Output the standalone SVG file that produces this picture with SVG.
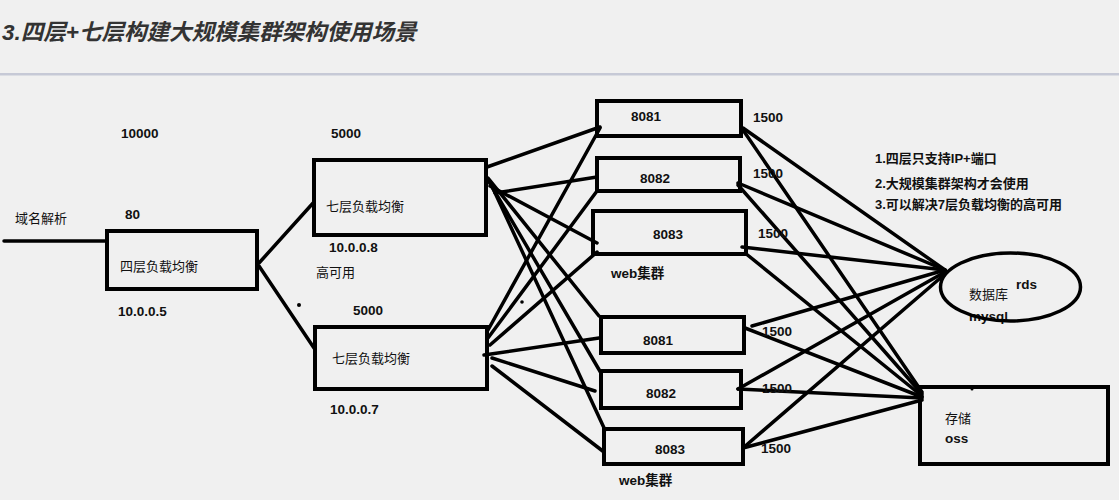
<svg xmlns="http://www.w3.org/2000/svg" width="1119" height="500" viewBox="0 0 1119 500">
<style>
  .bg{fill:#f0f0f0}
  .box{fill:none;stroke:#000;stroke-width:4}
  .ln{stroke:#000;stroke-width:3.5;stroke-linecap:round;fill:none}
  .t{font-family:"Liberation Sans","Noto Sans CJK SC",sans-serif;fill:#111}
  .num{font-size:13.5px;font-weight:bold}
  .cn{font-size:13px}
  .note{font-size:13px;font-weight:bold}
  .title{font-family:"Liberation Sans","Noto Sans CJK SC",sans-serif;font-size:22.5px;font-weight:bold;font-style:italic;fill:#333}
</style>
<rect class="bg" x="0" y="0" width="1119" height="500"/>
<text class="title" x="2" y="40">3.四层+七层构建大规模集群架构使用场景</text>
<rect x="0" y="73" width="1119" height="2.5" fill="#c6c9d6"/>

<g id="connectors">
  <line class="ln" x1="4" y1="241" x2="107" y2="241"/>
  <line class="ln" x1="259" y1="263" x2="314" y2="202"/>
  <line class="ln" x1="259" y1="266" x2="314" y2="348"/>
  <line class="ln" x1="487" y1="167" x2="600" y2="127"/>
  <line class="ln" x1="495" y1="193" x2="597" y2="177"/>
  <line class="ln" x1="490" y1="186" x2="597" y2="243"/>
  <line class="ln" x1="488" y1="178" x2="599" y2="316"/>
  <line class="ln" x1="488" y1="180" x2="601" y2="373"/>
  <line class="ln" x1="490" y1="182" x2="605" y2="430"/>
  <line class="ln" x1="488" y1="330" x2="600" y2="128"/>
  <line class="ln" x1="488" y1="338" x2="597" y2="191"/>
  <line class="ln" x1="490" y1="345" x2="597" y2="252"/>
  <line class="ln" x1="484" y1="355" x2="599" y2="338"/>
  <line class="ln" x1="492" y1="358" x2="595" y2="391"/>
  <line class="ln" x1="492" y1="366" x2="604" y2="452"/>
  <line class="ln" x1="743" y1="128" x2="945" y2="270"/>
  <line class="ln" x1="743" y1="130" x2="922" y2="392"/>
  <line class="ln" x1="738" y1="183" x2="945" y2="270"/>
  <line class="ln" x1="738" y1="185" x2="922" y2="394"/>
  <line class="ln" x1="742" y1="247" x2="945" y2="270"/>
  <line class="ln" x1="745" y1="253" x2="922" y2="396"/>
  <line class="ln" x1="752" y1="326" x2="945" y2="270"/>
  <line class="ln" x1="745" y1="328" x2="922" y2="397"/>
  <line class="ln" x1="738" y1="389" x2="945" y2="272"/>
  <line class="ln" x1="738" y1="389" x2="922" y2="398"/>
  <line class="ln" x1="743" y1="448" x2="945" y2="274"/>
  <line class="ln" x1="743" y1="448" x2="922" y2="400"/>
</g>

<g id="dns">
  <text class="t cn" x="15" y="223">域名解析</text>
</g>

<g id="l4">
  <rect class="box" x="107" y="231" width="150" height="58"/>
  <text class="t cn" x="120" y="271">四层负载均衡</text>
  <text class="t num" x="121" y="138">10000</text>
  <text class="t num" x="125" y="219">80</text>
  <text class="t num" x="118" y="316">10.0.0.5</text>
</g>

<g id="l7a">
  <rect class="box" x="314" y="160" width="172" height="75"/>
  <text class="t cn" x="326" y="211">七层负载均衡</text>
  <text class="t num" x="331" y="138">5000</text>
  <text class="t num" x="329" y="252">10.0.0.8</text>
  <text class="t cn" x="316" y="277">高可用</text>
</g>

<g id="l7b">
  <rect class="box" x="315" y="327" width="172" height="62"/>
  <text class="t cn" x="332" y="363">七层负载均衡</text>
  <text class="t num" x="353" y="315">5000</text>
  <text class="t num" x="330" y="414">10.0.0.7</text>
</g>

<g id="dots">
  <circle cx="299" cy="305" r="2" fill="#000"/>
  <circle cx="522" cy="302" r="1.8" fill="#000"/>
  <circle cx="972" cy="389" r="1.5" fill="#000"/>
</g>

<g id="web1-8081">
  <rect class="box" x="597" y="101" width="144" height="35"/>
  <text class="t num" x="631" y="121">8081</text>
  <text class="t num" x="753" y="122">1500</text>
</g>
<g id="web1-8082">
  <rect class="box" x="597" y="158" width="143" height="33"/>
  <text class="t num" x="640" y="183">8082</text>
  <text class="t num" x="753" y="178">1500</text>
</g>
<g id="web1-8083">
  <rect class="box" x="593" y="211" width="153" height="43"/>
  <text class="t num" x="653" y="239">8083</text>
  <text class="t num" x="758" y="238">1500</text>
  <text class="t num" x="611" y="278">web集群</text>
</g>

<g id="web2-8081">
  <rect class="box" x="601" y="317" width="143" height="36"/>
  <text class="t num" x="643" y="345">8081</text>
  <text class="t num" x="762" y="336">1500</text>
</g>
<g id="web2-8082">
  <rect class="box" x="601" y="371" width="140" height="37"/>
  <text class="t num" x="646" y="398">8082</text>
  <text class="t num" x="762" y="393">1500</text>
</g>
<g id="web2-8083">
  <rect class="box" x="604" y="429" width="139" height="35"/>
  <text class="t num" x="655" y="454">8083</text>
  <text class="t num" x="761" y="453">1500</text>
  <text class="t num" x="619" y="485">web集群</text>
</g>

<g id="notes">
  <text class="t note" x="875" y="163">1.四层只支持IP+端口</text>
  <text class="t note" x="875" y="188">2.大规模集群架构才会使用</text>
  <text class="t note" x="875" y="209">3.可以解决7层负载均衡的高可用</text>
</g>

<g id="db">
  <text class="t cn" x="969" y="299">数据库</text>
  <text class="t num" x="1016" y="289">rds</text>
  <text class="t num" x="969" y="321">mysql</text>
  <ellipse cx="1010.5" cy="287" rx="70" ry="34" fill="none" stroke="#000" stroke-width="3.5"/>
</g>

<g id="storage">
  <rect class="box" x="920" y="387" width="188" height="77"/>
  <text class="t cn" x="945" y="423">存储</text>
  <text class="t num" x="945" y="443">oss</text>
</g>
</svg>
